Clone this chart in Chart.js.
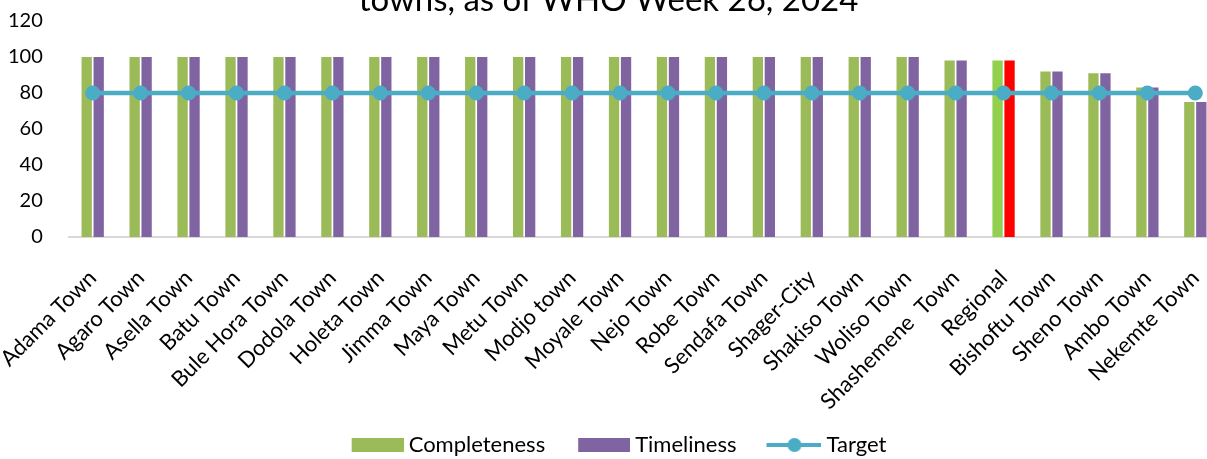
<!DOCTYPE html>
<html>
<head>
<meta charset="utf-8">
<title>Completeness and timeliness by town</title>
<script src="https://cdn.jsdelivr.net/npm/chart.js@4.4.1/dist/chart.umd.min.js"></script>
<style>
  html, body { margin: 0; padding: 0; background: #fff; overflow: hidden; }
  #wrap { position: absolute; left: -17px; top: -24px; width: 1251px; height: 490px; }
</style>
</head>
<body>
<div id="wrap"><canvas id="grafica"></canvas></div>
<script>
const towns = [
  'Adama Town', 'Agaro Town', 'Asella Town', 'Batu Town', 'Bule Hora Town',
  'Dodola Town', 'Holeta Town', 'Jimma Town', 'Maya Town', 'Metu Town',
  'Modjo town', 'Moyale Town', 'Nejo Town', 'Robe Town', 'Sendafa Town',
  'Shager-City', 'Shakiso Town', 'Woliso Town', 'Shashemene  Town', 'Regional',
  'Bishoftu Town', 'Sheno Town', 'Ambo Town', 'Nekemte Town'
];
const completeness = [100, 100, 100, 100, 100, 100, 100, 100, 100, 100, 100, 100,
  100, 100, 100, 100, 100, 100, 98, 98, 92, 91, 83, 75];
const timeliness = [100, 100, 100, 100, 100, 100, 100, 100, 100, 100, 100, 100,
  100, 100, 100, 100, 100, 100, 98, 98, 92, 91, 83, 75];
const target = [80, 80, 80, 80, 80, 80, 80, 80, 80, 80, 80, 80,
  80, 80, 80, 80, 80, 80, 80, 80, 80, 80, 80, 80];
const yTicks = [0, 20, 40, 60, 80, 100, 120];

const GREEN = '#9BBB59';
const PURPLE = '#8064A2';
const TEAL = '#4BACC6';
const FONT = 'Lato, "Liberation Sans", sans-serif';

// the regional row gets its own colours
const greenBars = towns.map(t => t === 'Regional' ? '#92D050' : GREEN);
const purpleBars = towns.map(t => t === 'Regional' ? '#FF0000' : PURPLE);

// legend icons: mark drawn flush right so it sits close to its text,
// the empty left part spaces the items apart
const ICON_W = 79;
function makeIcon(draw) {
  const cv = document.createElement('canvas');
  cv.width = ICON_W;
  cv.height = 16;
  draw(cv.getContext('2d'));
  return cv;
}
const greenIcon = makeIcon(c => { c.fillStyle = GREEN; c.fillRect(ICON_W - 52, 1, 52, 14); });
const purpleIcon = makeIcon(c => { c.fillStyle = PURPLE; c.fillRect(ICON_W - 52, 1, 52, 14); });
const lineIcon = makeIcon(c => {
  c.strokeStyle = TEAL;
  c.lineWidth = 4;
  c.beginPath();
  c.moveTo(ICON_W - 55, 8);
  c.lineTo(ICON_W + 1, 8);
  c.stroke();
  c.fillStyle = TEAL;
  c.beginPath();
  c.arc(ICON_W - 27, 8, 7, 0, Math.PI * 2);
  c.fill();
});
const icons = [greenIcon, purpleIcon, lineIcon];

const ctx = document.getElementById('grafica').getContext('2d');
new Chart(ctx, {
  type: 'bar',
  data: {
    labels: towns,
    datasets: [
      {
        label: 'Completeness',
        data: completeness,
        backgroundColor: greenBars,
        categoryPercentage: 0.5,
        barPercentage: 0.86,
        order: 2
      },
      {
        label: 'Timeliness',
        data: timeliness,
        backgroundColor: purpleBars,
        categoryPercentage: 0.5,
        barPercentage: 0.86,
        order: 2
      },
      {
        type: 'line',
        label: 'Target',
        data: target,
        borderColor: TEAL,
        backgroundColor: TEAL,
        borderWidth: 4.5,
        pointRadius: 7.5,
        pointHoverRadius: 7.5,
        pointBackgroundColor: TEAL,
        pointBorderWidth: 0,
        order: 1
      }
    ]
  },
  options: {
    responsive: true,
    maintainAspectRatio: false,
    animation: false,
    layout: { padding: 0 },
    plugins: {
      title: {
        display: true,
        text: 'towns, as of WHO Week 26, 2024',
        color: '#000',
        font: { family: FONT, size: 33, weight: 'normal' },
        padding: { top: 5, bottom: 0.4 }
      },
      legend: {
        position: 'bottom',
        labels: {
          usePointStyle: true,
          pointStyleWidth: ICON_W - 12,
          boxHeight: 14,
          padding: 12,
          color: '#000',
          font: { family: FONT, size: 22 },
          generateLabels(chart) {
            return chart.data.datasets.map((ds, i) => ({
              text: ds.label,
              datasetIndex: i,
              fillStyle: 'transparent',
              strokeStyle: 'transparent',
              lineWidth: 0,
              pointStyle: icons[i],
              hidden: !chart.isDatasetVisible(i),
              fontColor: '#000'
            }));
          }
        }
      },
      tooltip: { enabled: false }
    },
    scales: {
      x: {
        grid: { display: false },
        border: { color: '#D9D9D9', width: 2 },
        ticks: {
          color: '#000',
          font: { family: FONT, size: 22 },
          autoSkip: false,
          maxRotation: 45,
          minRotation: 45,
          padding: 20
        },
        // rotated labels get more room than they use; keep the band tight
        afterFit(scale) {
          scale.height = 185;
        }
      },
      y: {
        min: 0,
        max: 120,
        afterBuildTicks(axis) {
          axis.ticks = yTicks.map(v => ({ value: v }));
        },
        grid: { display: false },
        border: { display: false },
        ticks: {
          color: '#000',
          font: { family: FONT, size: 20 },
          padding: 18
        }
      }
    }
  }
});
</script>
</body>
</html>
